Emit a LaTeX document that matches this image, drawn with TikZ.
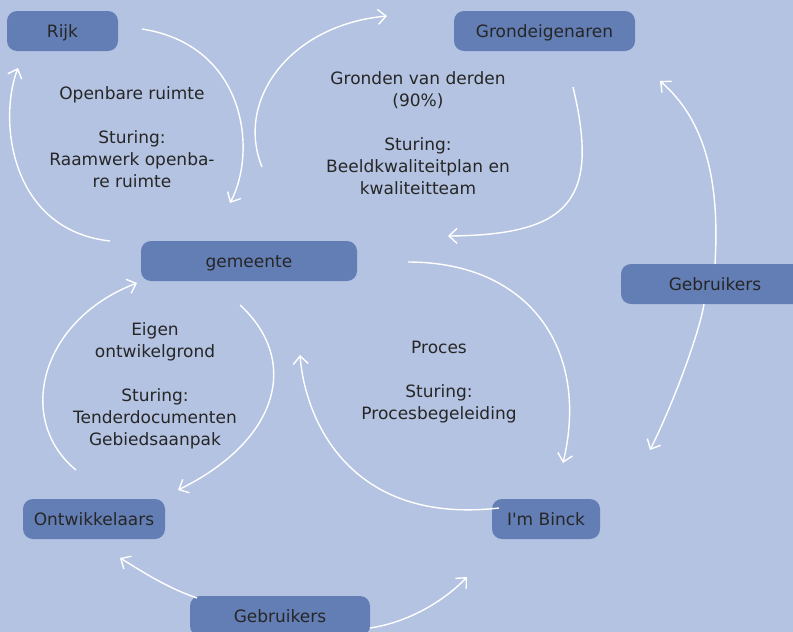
\documentclass[tikz,border=0pt]{standalone}
\usepackage{fontspec}
\setmainfont{DejaVu Sans}
\usetikzlibrary{arrows.meta}
\definecolor{bgc}{HTML}{B4C3E2}
\definecolor{boxc}{HTML}{637EB5}
\definecolor{txtc}{HTML}{262626}
\tikzset{
  actor/.style={fill=boxc, rounded corners=10pt, minimum height=40pt, inner sep=0pt, text height=12.4pt, text depth=0pt, text=txtc, font=\fontsize{17}{22}\selectfont},
  label/.style={align=center, text=txtc, font=\fontsize{17}{22}\selectfont, inner sep=0pt},
  flow/.style={draw=white, line width=1.4pt, -{Straight Barb[length=8pt,width=15pt,line width=1.4pt]}}
}
\begin{document}
\begin{tikzpicture}[x=1pt,y=-1pt]
\fill[bgc] (0,0) rectangle (793,632);
\useasboundingbox (0,0) rectangle (793,632);
\clip (0,0) rectangle (793,632);
% actors
\node[actor, minimum width=111pt] (rijk) at (62.5,31) {Rijk};
\node[actor, minimum width=181pt] (grond) at (544.5,31) {Grondeigenaren};
\node[actor, minimum width=216pt] (gem) at (249,261) {gemeente};
\node[actor, minimum width=188pt] (gebr1) at (715,284) {Gebruikers};
\node[actor, minimum width=142pt] (ontw) at (94,519) {Ontwikkelaars};
\node[actor, minimum width=108pt] (binck) at (546,519) {I\textquotesingle m Binck};
\node[actor, minimum width=180pt] (gebr2) at (280,616) {Gebruikers};
% labels
\node[label] (l1) at (132,137) {Openbare ruimte\\[22pt]Sturing:\\Raamwerk openba-\\re ruimte};
\node[label] (l2) at (418,133) {Gronden van derden\\(90\%)\\[22pt]Sturing:\\Beeldkwaliteitplan en\\kwaliteitteam};
\node[label] (l3) at (155,386) {Eigen\\ontwikelgrond\\[22pt]Sturing:\\Tenderdocumenten\\Gebiedsaanpak};
\node[label] (l4) at (439,382) {Proces\\[22pt]Sturing:\\Procesbegeleiding};
% connector end points
\coordinate (a1s) at (142,29);  \coordinate (a1e) at (230,203);
\coordinate (a2s) at (110,241); \coordinate (a2e) at (18,68);
\coordinate (a3s) at (262,167); \coordinate (a3e) at (387,16);
\coordinate (a4s) at (573,87);  \coordinate (a4e) at (448,236);
\coordinate (a5s) at (715,264); \coordinate (a5e) at (660,81);
\coordinate (a6s) at (704,304); \coordinate (a6e) at (650,450);
\coordinate (a7s) at (408,262); \coordinate (a7e) at (563,463);
\coordinate (a8s) at (499,508); \coordinate (a8e) at (300,355);
\coordinate (a9s) at (76,470);  \coordinate (a9e) at (137,283);
\coordinate (a10s) at (240,305); \coordinate (a10e) at (178,490);
\coordinate (a11s) at (197,598); \coordinate (a11e) at (120,558);
\coordinate (a12s) at (370,628); \coordinate (a12e) at (467,577);
% connectors
\draw[flow] (a1s) .. controls (245,45) and (258,150) .. (a1e);
\draw[flow] (a2s) .. controls (10,230) and (-2,120) .. (a2e);
\draw[flow] (a3s) .. controls (235,100) and (290,25) .. (a3e);
\draw[flow] (a4s) .. controls (600,200) and (570,235) .. (a4e);
\draw[flow] (a5s) .. controls (720,180) and (705,120) .. (a5e);
\draw[flow] (a6s) .. controls (700,330) and (675,400) .. (a6e);
\draw[flow] (a7s) .. controls (530,262) and (590,350) .. (a7e);
\draw[flow] (a8s) .. controls (350,525) and (305,420) .. (a8e);
\draw[flow] (a9s) .. controls (15,420) and (40,320) .. (a9e);
\draw[flow] (a10s) .. controls (300,360) and (280,440) .. (a10e);
\draw[flow] (a11s) .. controls (165,587) and (140,570) .. (a11e);
\draw[flow] (a12s) .. controls (410,622) and (445,600) .. (a12e);
\end{tikzpicture}
\end{document}
